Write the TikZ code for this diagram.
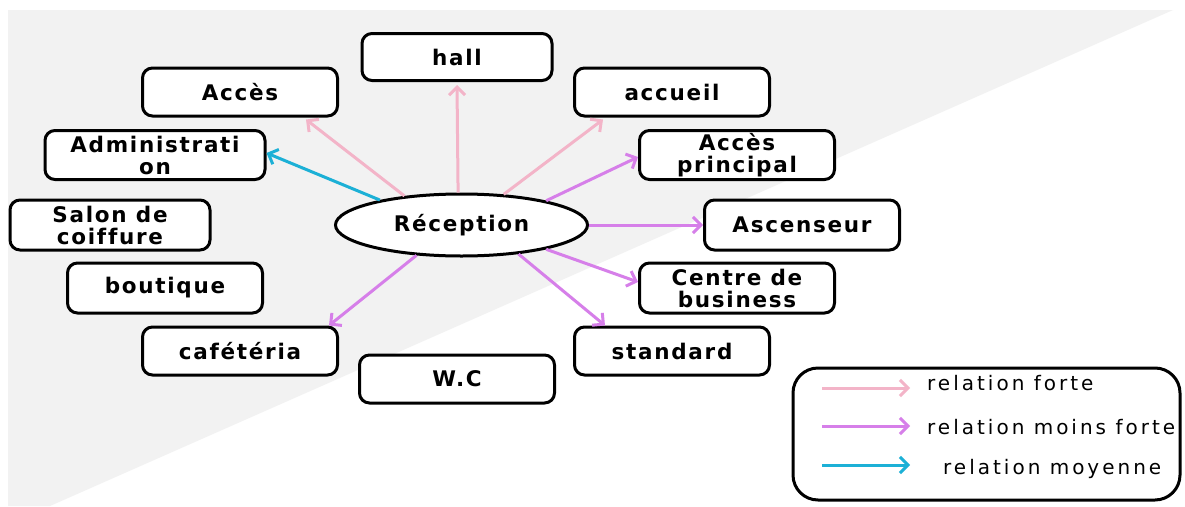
\documentclass[tikz,border=0pt]{standalone}
\usepackage{fontspec}
\usetikzlibrary{shapes.geometric,arrows.meta}
\newfontfamily\boxfont[LetterSpace=8,Ligatures=NoCommon]{DejaVu Sans}
\newfontfamily\legfont[LetterSpace=15,Ligatures=NoCommon]{DejaVu Sans}
\definecolor{bggray}{HTML}{F2F2F2}
\definecolor{relpink}{HTML}{F3B4C8}
\definecolor{relpurple}{HTML}{D67FE9}
\definecolor{relblue}{HTML}{1CB0D6}
\tikzset{
  room/.style={draw=black, line width=3pt, rounded corners=10pt, fill=white,
    minimum width=195pt, minimum height=48pt, align=center, inner sep=2pt,
    font=\boxfont\bfseries\fontsize{21.5}{22}\selectfont},
  hub/.style={draw=black, line width=3pt, ellipse, fill=white,
    minimum width=252pt, minimum height=62pt, inner sep=0pt,
    font=\boxfont\bfseries\fontsize{21.5}{22}\selectfont},
  rel/.style={line width=3pt, -{Straight Barb[length=8pt,width=16pt]}},
  forte/.style={rel, draw=relpink},
  moins/.style={rel, draw=relpurple},
  moyenne/.style={rel, draw=relblue},
  legtext/.style={font=\legfont\fontsize{20}{22}\selectfont, anchor=west, inner sep=0pt},
}
\begin{document}
\begin{tikzpicture}[x=1pt,y=-1pt]
\useasboundingbox (0,0) rectangle (1185,506);
\fill[white] (0,0) rectangle (1185,506);
\fill[bggray] (8,10) -- (1173,10) -- (50,506) -- (8,506) -- cycle;

\node[hub] (rec) at (461.5,225) {Réception};

\node[room, minimum width=190pt, minimum height=47pt] (hall) at (457,57) {hall};
\node[room] (acc) at (240,92) {Accès};
\node[room] (acu) at (672,92) {accueil};
\node[room, minimum width=220pt, minimum height=49pt] (adm) at (155,155) {Administrati\\on};
\node[room, minimum height=49pt] (ap) at (737,155) {Accès\\principal};
\node[room, minimum width=200pt, minimum height=50pt] (sal) at (110,225) {Salon de\\coiffure};
\node[room, minimum height=50pt] (asc) at (802,225) {Ascenseur};
\node[room, minimum height=50pt] (bou) at (165,288) {boutique};
\node[room, minimum height=50pt] (cb) at (737,288) {Centre de\\business};
\node[room] (caf) at (240,351) {cafétéria};
\node[room] (std) at (672,351) {standard};
\node[room] (wc) at (457,379) {W.C};

\draw[forte] (rec.153) -- ([xshift=-33pt,yshift=-2pt]acc.south east);
\draw[forte] (rec.96) -- ([yshift=-3pt]hall.south);
\draw[forte] (rec.36) -- ([xshift=30pt,yshift=-2pt]acu.south west);
\draw[moyenne] (rec.163) -- ([yshift=2pt]adm.east);
\draw[moins] (rec.16) -- ([yshift=-2pt]ap.west);
\draw[moins] (rec.east) -- (asc.west);
\draw[moins] (rec.-16) -- ([yshift=6pt]cb.west);
\draw[moins] (rec.-27) -- ([xshift=32pt]std.north west);
\draw[moins] (rec.-146) -- ([xshift=-10pt]caf.north east);

\node[draw=black, line width=3pt, rounded corners=25pt, minimum width=387pt, minimum height=132pt, inner sep=0pt] (leg) at (986.5,434) {};
\coordinate (l1a) at (822,388);
\coordinate (l1b) at (910,388);
\coordinate (l2a) at (822,426);
\coordinate (l2b) at (910,426);
\coordinate (l3a) at (822,465);
\coordinate (l3b) at (910,465);
\draw[forte] (l1a) -- (l1b);
\draw[moins] (l2a) -- (l2b);
\draw[moyenne] (l3a) -- (l3b);
\node[legtext] (t1) at (927,383) {relation forte};
\node[legtext] (t2) at (927,427) {relation moins forte};
\node[legtext] (t3) at (943,469) {relation moyenne};
\end{tikzpicture}
\end{document}
